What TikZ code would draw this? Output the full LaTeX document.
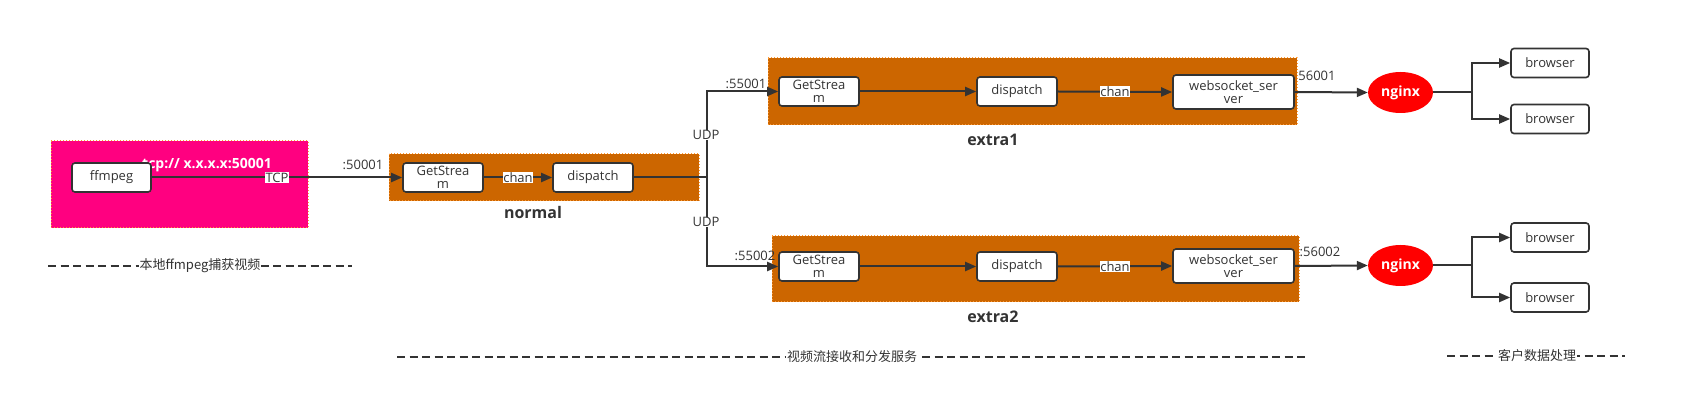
\documentclass[tikz,border=0pt]{standalone}
\usepackage{fontspec}
\setmainfont{Open Sans}
\newfontfamily\cjk{Noto Sans CJK SC}
\usetikzlibrary{arrows.meta,shapes.geometric,positioning}
\definecolor{line}{HTML}{333333}
\definecolor{pinkbg}{HTML}{FF0080}
\definecolor{orangebg}{HTML}{CC6600}
\definecolor{dotborder}{HTML}{FF9933}
\definecolor{nginxred}{HTML}{FF0000}
\newcommand{\fsz}[1]{\fontsize{#1}{#1}\selectfont}
\tikzset{
  x=1pt, y=-1pt,
  box/.style={draw=line, line width=1.6pt, rounded corners=3pt, fill=white, inner sep=0pt,
    align=center, font=\fsz{13}, text=line, minimum width=80pt, minimum height=29pt},
  panel/.style={draw=dotborder, line width=1pt, dotted},
  conn/.style={draw=line, line width=2pt, -{Triangle[length=11pt,width=9pt]}},
  plain/.style={draw=line, line width=2pt},
  elab/.style={font=\fsz{13}, text=line, inner sep=0.5pt},
  wlab/.style={elab, fill=white},
  title/.style={font=\bfseries\fsz{16}, text=line},
  sep/.style={draw=line, line width=2pt, dash pattern=on 8pt off 4.5pt},
  seplab/.style={font=\cjk\fsz{13}, text=line, fill=white, inner sep=1pt},
  ng/.style={ellipse, fill=nginxred, minimum width=65pt, minimum height=41pt, inner sep=0pt,
    font=\bfseries\fsz{14}, text=white},
}
\begin{document}
\begin{tikzpicture}
\useasboundingbox (0,0) rectangle (1687,419);
% panels
\path[panel, fill=pinkbg] (51,141) rectangle (308,228);
\path[panel, fill=orangebg] (389,154) rectangle (699,201);
\path[panel, fill=orangebg] (768,58) rectangle (1297,125);
\path[panel, fill=orangebg] (772,236) rectangle (1299,302);
\node[font=\bfseries\fsz{14}, text=white] (tcpurl) at (207,165) {tcp:// x.x.x.x:50001};
\node[title] (tnormal) at (533,213) {normal};
\node[title] (textra1) at (993,140) {extra1};
\node[title] (textra2) at (993,317) {extra2};
% nodes
\node[box, minimum width=79pt] (ffmpeg) at (111.5,177.5) {ffmpeg};
\node[box] (gsN) at (443,177.5) {GetStrea\\m};
\node[box] (dispN) at (593,177.5) {dispatch};
\node[box] (gs1) at (819,91.5) {GetStrea\\m};
\node[box] (disp1) at (1017,91.5) {dispatch};
\node[box, minimum width=121pt, minimum height=34pt] (ws1) at (1233.5,92) {websocket\_ser\\ver};
\node[box] (gs2) at (819,266.5) {GetStrea\\m};
\node[box] (disp2) at (1017,266.5) {dispatch};
\node[box, minimum width=121pt, minimum height=34pt] (ws2) at (1233.5,266) {websocket\_ser\\ver};
\node[ng] (ng1) at (1400.5,92.5) {nginx};
\node[ng] (ng2) at (1400.5,265.5) {nginx};
\node[box, minimum width=78pt] (b1a) at (1550,63) {browser};
\node[box, minimum width=78pt] (b1b) at (1550,119) {browser};
\node[box, minimum width=78pt] (b2a) at (1550,237.5) {browser};
\node[box, minimum width=78pt] (b2b) at (1550,297.5) {browser};
\coordinate (split) at (707,177.5);
\coordinate (fork1) at (1472,92.5);
\coordinate (fork2) at (1472,265.5);
% connectors
\draw[conn] (ffmpeg.east) -- node[wlab] (ltcp) {TCP} (gsN.west);
\node[elab] (l50001) at (363,165) {:50001};
\draw[conn] (gsN.east) -- node[wlab] (lchanN) {chan} (dispN.west);
\draw[plain] (dispN.east) -- (split);
\draw[conn] (split) |- (gs1.west);
\draw[conn] (split) |- (gs2.west);
\node[wlab] (udp1) at (706,135) {UDP};
\node[wlab] (udp2) at (706,222) {UDP};
\node[elab] (l55001) at (746,84) {:55001};
\node[elab] (l55002) at (755,256) {:55002};
\draw[conn] (gs1.east) -- (disp1.west);
\draw[conn] (disp1.east) -- node[wlab] (lchan1) {chan} (ws1.west);
\draw[conn] (gs2.east) -- (disp2.west);
\draw[conn] (disp2.east) -- node[wlab] (lchan2) {chan} (ws2.west);
\draw[conn] (ws1.east) -- (ng1.west);
\draw[conn] (ws2.east) -- (ng2.west);
\node[elab] (l56001) at (1317,76) {56001};
\node[elab] (l56002) at (1320,252) {:56002};
\draw[plain] (ng1.east) -- (fork1);
\draw[conn] (fork1) |- (b1a.west);
\draw[conn] (fork1) |- (b1b.west);
\draw[plain] (ng2.east) -- (fork2);
\draw[conn] (fork2) |- (b2a.west);
\draw[conn] (fork2) |- (b2b.west);
% separators
\coordinate (s1a) at (48,266); \coordinate (s1b) at (352,266);
\draw[sep] (s1a) -- (s1b);
\node[seplab] (sl1) at (200,266) {本地ffmpeg捕获视频};
\coordinate (s2a) at (397,357); \coordinate (s2b) at (1306,357);
\draw[sep] (s2a) -- (s2b);
\node[seplab] (sl2) at (852,357) {视频流接收和分发服务};
\coordinate (s3a) at (1447,356); \coordinate (s3b) at (1625,356);
\draw[sep] (s3a) -- (s3b);
\node[seplab] (sl3) at (1537,356) {客户数据处理};
\end{tikzpicture}
\end{document}
